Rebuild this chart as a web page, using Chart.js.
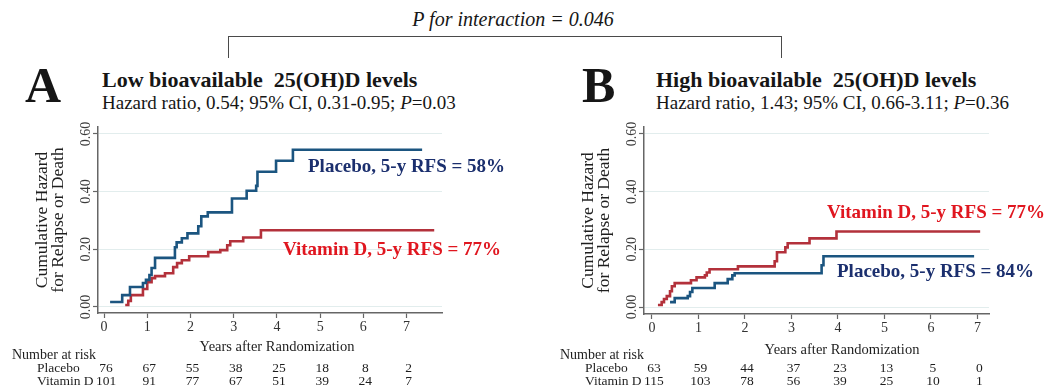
<!DOCTYPE html>
<html><head><meta charset="utf-8">
<script src="https://cdn.jsdelivr.net/npm/chart.js@4/dist/chart.umd.min.js"></script>
<style>
html,body{margin:0;padding:0;background:#fff;}
body{width:1046px;height:385px;position:relative;overflow:hidden;font-family:"Liberation Serif","Times New Roman",serif;color:#161616;}
.t{position:absolute;white-space:pre;line-height:1;}
canvas{position:absolute;top:110px;}
#bracket{position:absolute;left:228px;top:36px;width:552px;height:21px;border:1.5px solid #4a4a4a;border-bottom:none;}
</style></head>
<body>
<div class="t" style="left:313px;width:400px;text-align:center;top:9px;font-size:20px;font-style:italic;">P for interaction = 0.046</div>
<div id="bracket"></div>
<div class="t" style="left:25px;top:60px;font-size:50px;font-weight:bold;">A</div>
<div class="t" style="left:102px;top:69px;font-size:22px;font-weight:bold;">Low bioavailable  25(OH)D levels</div>
<div class="t" style="left:102px;top:93px;font-size:19px;">Hazard ratio, 0.54; 95% CI, 0.31-0.95; <i>P</i>=0.03</div>
<div class="t" style="left:582px;top:60px;font-size:50px;font-weight:bold;">B</div>
<div class="t" style="left:656px;top:69px;font-size:22px;font-weight:bold;">High bioavailable  25(OH)D levels</div>
<div class="t" style="left:656px;top:93px;font-size:19px;">Hazard ratio, 1.43; 95% CI, 0.66-3.11; <i>P</i>=0.36</div>
<canvas id="cA" width="530" height="275" style="left:0px"></canvas>
<canvas id="cB" width="516" height="275" style="left:530px"></canvas>
<script>
// ---- data ----
const xTicks = [0, 1, 2, 3, 4, 5, 6, 7];
const yTicks = [0, 0.2, 0.4, 0.6];
const riskGroups = ['Placebo', 'Vitamin D'];

// Panel A: low bioavailable 25(OH)D
const aPlaceboT = [0.14, 0.42, 0.60, 0.90, 0.97, 1.05, 1.10, 1.18, 1.64, 1.68, 1.80, 1.93, 2.18, 2.25, 2.40, 2.96, 3.30, 3.52, 3.55, 3.98, 4.37, 7.36];
const aPlaceboH = [0.017, 0.041, 0.069, 0.083, 0.094, 0.111, 0.135, 0.170, 0.207, 0.224, 0.238, 0.255, 0.280, 0.314, 0.328, 0.376, 0.403, 0.420, 0.469, 0.507, 0.545, 0.545];
const aVitDT = [0.49, 0.56, 0.62, 0.90, 1.00, 1.10, 1.18, 1.41, 1.60, 1.69, 1.80, 1.97, 2.41, 2.69, 2.85, 2.92, 3.22, 3.63, 7.64];
const aVitDH = [0.007, 0.021, 0.041, 0.062, 0.086, 0.100, 0.107, 0.117, 0.138, 0.152, 0.162, 0.176, 0.190, 0.197, 0.214, 0.228, 0.241, 0.266, 0.266];
const aRiskPlacebo = [76, 67, 55, 38, 25, 18, 8, 2];
const aRiskVitD = [101, 91, 77, 67, 51, 39, 24, 7];

// Panel B: high bioavailable 25(OH)D
const bPlaceboT = [0.39, 0.49, 0.77, 0.82, 0.87, 1.35, 1.63, 1.73, 1.78, 3.65, 3.69, 6.93];
const bPlaceboH = [0.017, 0.031, 0.038, 0.052, 0.066, 0.083, 0.097, 0.110, 0.117, 0.145, 0.176, 0.176];
const bVitDT = [0.13, 0.21, 0.26, 0.32, 0.39, 0.43, 0.49, 0.84, 0.96, 1.14, 1.18, 1.24, 1.85, 2.64, 2.69, 2.87, 2.92, 3.39, 3.97, 7.06];
const bVitDH = [0.007, 0.017, 0.028, 0.038, 0.055, 0.072, 0.083, 0.093, 0.103, 0.110, 0.120, 0.131, 0.141, 0.159, 0.190, 0.207, 0.221, 0.238, 0.262, 0.262];
const bRiskPlacebo = [63, 59, 44, 37, 23, 13, 5, 0];
const bRiskVitD = [115, 103, 78, 56, 39, 25, 10, 1];

// ---- styles ----
const BLUE = '#1b5580', RED = '#b3313b', NAVY = '#1b2f6e', LRED = '#e0161f';
const FONT = '"Liberation Serif", "Times New Roman", serif';
const TOP = 110, CH = 275;

const panels = [
  { id: 'cA', left: 0, width: 530, area: { l: 98, r: 442, t: 127, b: 313 },
    x: { min: -0.14, max: 7.82 }, y: { min: -0.021, max: 0.624 },
    series: [{ t: aPlaceboT, h: aPlaceboH, c: BLUE }, { t: aVitDT, h: aVitDH, c: RED }],
    labels: [{ s: 'Placebo, 5-y RFS = 58%', x: 308, y: 172, c: NAVY }, { s: 'Vitamin D, 5-y RFS = 77%', x: 283, y: 255, c: LRED }],
    yTickX: 86, yTitleX: [47, 63], xTitle: { x: 277, y: 351 },
    risk: { hx: 12, gx: 37, rows: [aRiskPlacebo, aRiskVitD], ys: [358.5, 371.5, 384.5] } },
  { id: 'cB', left: 530, width: 516, area: { l: 644, r: 989, t: 127, b: 314 },
    x: { min: -0.17, max: 7.25 }, y: { min: -0.024, max: 0.624 },
    series: [{ t: bPlaceboT, h: bPlaceboH, c: BLUE }, { t: bVitDT, h: bVitDH, c: RED }],
    labels: [{ s: 'Vitamin D, 5-y RFS = 77%', x: 827, y: 218, c: LRED }, { s: 'Placebo, 5-y RFS = 84%', x: 837, y: 277, c: NAVY }],
    yTickX: 632, yTitleX: [593, 609], xTitle: { x: 842, y: 354 },
    risk: { hx: 560, gx: 585, rows: [bRiskPlacebo, bRiskVitD], ys: [358.5, 371.5, 384.5] } }
];

panels.forEach(p => {
  const ox = p.left, oy = TOP;
  const plugin = {
    id: 'deco_' + p.id,
    afterDraw(chart) {
      const ctx = chart.ctx, xs = chart.scales.x, ys = chart.scales.y;
      ctx.save();
      // y tick labels (rotated)
      ctx.fillStyle = '#3a3a3a';
      ctx.font = '14px ' + FONT;
      ctx.textAlign = 'center'; ctx.textBaseline = 'middle';
      yTicks.forEach(v => {
        ctx.save();
        ctx.translate(p.yTickX - ox, ys.getPixelForValue(v));
        ctx.rotate(-Math.PI / 2);
        ctx.fillText(v.toFixed(2), 0, 0);
        ctx.restore();
      });
      // y title
      const cy = (chart.chartArea.top + chart.chartArea.bottom) / 2;
      ctx.fillStyle = '#1e1e1e';
      ctx.font = '17.5px ' + FONT;
      ctx.textBaseline = 'alphabetic';
      ['Cumulative Hazard', 'for Relapse or Death'].forEach((s, i) => {
        ctx.save();
        ctx.translate(p.yTitleX[i] - ox, cy);
        ctx.rotate(-Math.PI / 2);
        ctx.fillText(s, 0, 0);
        ctx.restore();
      });
      // x title
      ctx.font = '14.5px ' + FONT;
      ctx.fillText('Years after Randomization', p.xTitle.x - ox, p.xTitle.y - oy);
      // curve labels
      ctx.textAlign = 'left';
      ctx.font = 'bold 19px ' + FONT;
      p.labels.forEach(l => { ctx.fillStyle = l.c; ctx.fillText(l.s, l.x - ox, l.y - oy); });
      // number at risk
      ctx.fillStyle = '#1e1e1e';
      ctx.font = '14px ' + FONT;
      ctx.fillText('Number at risk', p.risk.hx - ox, p.risk.ys[0] - oy);
      p.risk.rows.forEach((row, r) => {
        const by = p.risk.ys[r + 1] - oy;
        ctx.textAlign = 'left';
        ctx.font = '13.5px ' + FONT;
        ctx.fillText(riskGroups[r], p.risk.gx - ox, by);
        ctx.textAlign = 'center';
        ctx.font = '13.5px ' + FONT;
        row.forEach((n, i) => ctx.fillText(String(n), xs.getPixelForValue(xTicks[i]) + 2, by));
      });
      ctx.restore();
    }
  };
  new Chart(document.getElementById(p.id), {
    type: 'scatter',
    data: {
      datasets: p.series.map(s => ({
        data: s.t.map((t, i) => ({ x: t, y: s.h[i] })),
        showLine: true, stepped: true, borderColor: s.c, borderWidth: 2.6,
        pointRadius: 0, fill: false, tension: 0, borderCapStyle: 'butt'
      }))
    },
    options: {
      responsive: false, animation: false, events: [],
      layout: { padding: { left: 0, top: p.area.t - oy, right: p.width - (p.area.r - ox), bottom: 0 } },
      plugins: { legend: { display: false }, tooltip: { enabled: false } },
      scales: {
        x: {
          type: 'linear', min: p.x.min, max: p.x.max,
          afterBuildTicks: s => { s.ticks = xTicks.map(v => ({ value: v })); },
          afterFit: s => { s.height = CH - (p.area.b - oy); },
          grid: { drawOnChartArea: false, drawTicks: true, tickLength: 5, tickColor: '#666', tickWidth: 1.2 },
          border: { color: '#666', width: 1.5 },
          ticks: { color: '#333', font: { family: FONT, size: 14 }, padding: 1, maxRotation: 0, callback: v => String(v) }
        },
        y: {
          type: 'linear', min: p.y.min, max: p.y.max,
          afterBuildTicks: s => { s.ticks = yTicks.map(v => ({ value: v })); },
          afterFit: s => { s.width = p.area.l - ox; },
          grid: { color: '#e2eded', lineWidth: 1, drawTicks: true, tickLength: 5, tickColor: '#666', tickWidth: 1.2 },
          border: { color: '#666', width: 1.5 },
          ticks: { display: false }
        }
      }
    },
    plugins: [plugin]
  });
});
</script>
</body></html>
